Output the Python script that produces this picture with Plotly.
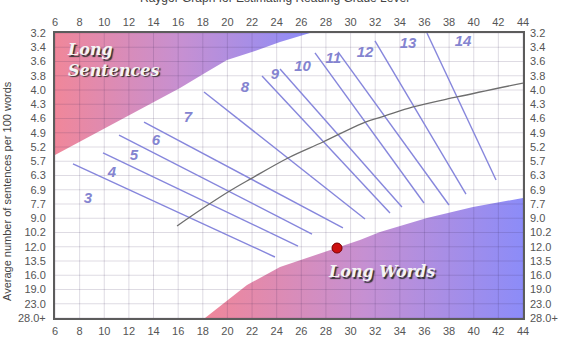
import plotly.graph_objects as go

# ---------------- data ----------------
X_TICKS = list(range(6, 46, 2))
Y_LABELS = ["3.2", "3.4", "3.6", "3.8", "4.0", "4.3", "4.6", "4.9", "5.2", "5.7",
            "6.3", "6.9", "7.7", "9.0", "10.2", "12.0", "13.5", "16.0", "19.0",
            "23.0", "28.0+"]
Y_POS = list(range(len(Y_LABELS)))

# grade boundary lines (x = long words per 100, y = position on sentence scale)
LINE_START_X = [7.46, 9.90, 11.20, 13.23, 18.10, 22.81, 24.27, 27.11, 28.98, 31.98, 36.20]
LINE_START_Y = [9.19, 8.42, 7.16, 6.25, 4.14, 3.02, 2.53, 1.40, 1.33, 0.56, 0.0]
LINE_END_X = [23.86, 25.73, 26.87, 29.38, 31.17, 33.20, 34.17, 35.96, 37.99, 39.37, 41.81]
LINE_END_Y = [15.72, 14.95, 14.11, 13.68, 13.05, 12.63, 12.21, 11.93, 12.07, 11.30, 10.32]

GRADES = ["3", "4", "5", "6", "7", "8", "9", "10", "11", "12", "13", "14"]
GRADE_X = [8.68, 10.63, 12.41, 14.2, 16.8, 21.43, 23.86, 26.1, 28.6, 31.17, 34.66, 39.13]
GRADE_Y = [11.65, 9.82, 8.63, 7.58, 5.96, 3.86, 2.95, 2.39, 1.82, 1.40, 0.77, 0.63]

CURVE_X = [15.91, 16.96, 20.05, 22.0, 24.92, 27.76, 31.01, 32.79, 35.07, 38.64, 44.0]
CURVE_Y = [13.54, 12.91, 11.16, 10.18, 8.77, 7.65, 6.32, 5.82, 5.19, 4.49, 3.51]

SENT_X = [6.0, 9.65, 12.90, 16.15, 18.18, 19.97, 22.24, 24.27, 25.89, 26.70]
SENT_Y = [8.56, 6.88, 5.40, 3.86, 2.81, 1.89, 1.26, 0.63, 0.21, 0.0]

WORD_X = [18.18, 20.2, 21.59, 24.27, 28.33, 30.76, 32.39, 36.2, 39.94, 44.0]
WORD_Y = [20.0, 18.6, 17.68, 16.42, 15.23, 14.53, 13.96, 12.98, 12.21, 11.58]

POINT_X = [28.9]
POINT_Y = [15.09]

# ---------------- figure ----------------
GRAD = [[0, "#f0879a"], [0.5, "#c690d2"], [1, "#8c8cf8"]]
fig = go.Figure()

# shaded regions
fig.add_trace(go.Scatter(
    x=SENT_X + [X_TICKS[0]], y=SENT_Y + [Y_POS[0]],
    mode="lines", line=dict(width=0), fill="toself",
    fillgradient=dict(type="horizontal", colorscale=GRAD),
    hoverinfo="skip"))
fig.add_trace(go.Scatter(
    x=WORD_X + [X_TICKS[-1]], y=WORD_Y + [Y_POS[-1]],
    mode="lines", line=dict(width=0), fill="toself",
    fillgradient=dict(type="horizontal", colorscale=GRAD),
    hoverinfo="skip"))

# grid drawn over the fills
gx, gy = [], []
for v in X_TICKS:
    gx += [v, v, None]
    gy += [Y_POS[0], Y_POS[-1], None]
for p in Y_POS:
    gx += [X_TICKS[0], X_TICKS[-1], None]
    gy += [p, p, None]
fig.add_trace(go.Scatter(x=gx, y=gy, mode="lines",
                         line=dict(color="rgba(60,40,90,0.17)", width=1),
                         hoverinfo="skip"))

# grade lines
lx, ly = [], []
for a, b, c, d in zip(LINE_START_X, LINE_START_Y, LINE_END_X, LINE_END_Y):
    lx += [a, c, None]
    ly += [b, d, None]
fig.add_trace(go.Scatter(x=lx, y=ly, mode="lines",
                         line=dict(color="#8686dc", width=1.4), hoverinfo="skip"))

# dividing curve
fig.add_trace(go.Scatter(x=CURVE_X, y=CURVE_Y, mode="lines",
                         line=dict(color="#6e6e6e", width=1.3, shape="spline"),
                         hoverinfo="skip"))

# grade labels
fig.add_trace(go.Scatter(x=GRADE_X, y=GRADE_Y, mode="text", text=GRADES,
                         textfont=dict(family="Liberation Sans", size=15,
                                       color="#8484d0", style="italic", weight="bold"),
                         hoverinfo="skip"))

# the plotted point (on the mirrored axes)
fig.add_trace(go.Scatter(x=POINT_X, y=POINT_Y, mode="markers", xaxis="x2", yaxis="y2",
                         marker=dict(size=10, color="#cc1010",
                                     line=dict(color="#7a0000", width=1)),
                         hoverinfo="skip"))

tickfont = dict(family="Liberation Sans", size=11, color="#555555")
common_x = dict(range=[X_TICKS[0], X_TICKS[-1]], tickvals=X_TICKS, showgrid=False,
                zeroline=False, ticks="", tickfont=tickfont, fixedrange=True,
                automargin=False)
common_y = dict(range=[Y_POS[-1], Y_POS[0]], tickvals=Y_POS, ticktext=Y_LABELS,
                showgrid=False, zeroline=False, ticks="", tickfont=tickfont,
                fixedrange=True, automargin=False)

fig.update_layout(
    width=561, height=342,
    margin=dict(l=55, r=38, t=33, b=24, autoexpand=False),
    paper_bgcolor="white", plot_bgcolor="white",
    showlegend=False,
    xaxis=dict(**common_x, showline=True, linecolor="#5c5c5c", linewidth=2,
               mirror=True, side="bottom", ticklabelstandoff=2),
    yaxis=dict(**common_y, showline=True, linecolor="#5c5c5c", linewidth=2,
               mirror=True, side="left", ticklabelstandoff=5),
    xaxis2=dict(**common_x, overlaying="x", side="top", matches="x", showline=False,
                ticklabelstandoff=4),
    yaxis2=dict(**common_y, overlaying="y", side="right", matches="y", showline=False,
                ticklabelstandoff=6),
    annotations=[
        dict(text="Raygor Graph for Estimating Reading Grade Level", xref="paper",
             yref="paper", x=0.47, y=1.0912, xanchor="center", yanchor="bottom",
             showarrow=False, font=dict(family="Liberation Sans", size=12, color="#444444")),
        dict(text="Average number of sentences per 100 words", xref="paper",
             yref="paper", x=-0.1026, y=0.4456, xanchor="center", yanchor="middle",
             textangle=-90, showarrow=False,
             font=dict(family="Liberation Sans", size=11, color="#444444")),
        dict(text="Long<br>Sentences", xref="x", yref="y", x=6.85, y=1.86,
             xanchor="left", yanchor="middle", align="left", showarrow=False,
             font=dict(family="DejaVu Serif", size=16, color="#f4f4f4",
                       style="italic", weight="bold", shadow="1.5px 1.5px 1px #333333")),
        dict(text="Long Words", xref="x", yref="y", x=32.55, y=16.77,
             xanchor="center", yanchor="middle", showarrow=False,
             font=dict(family="DejaVu Serif", size=16, color="#f4f4f4",
                       style="italic", weight="bold", shadow="1.5px 1.5px 1px #333333")),
    ],
)

fig.write_html("out.html")
